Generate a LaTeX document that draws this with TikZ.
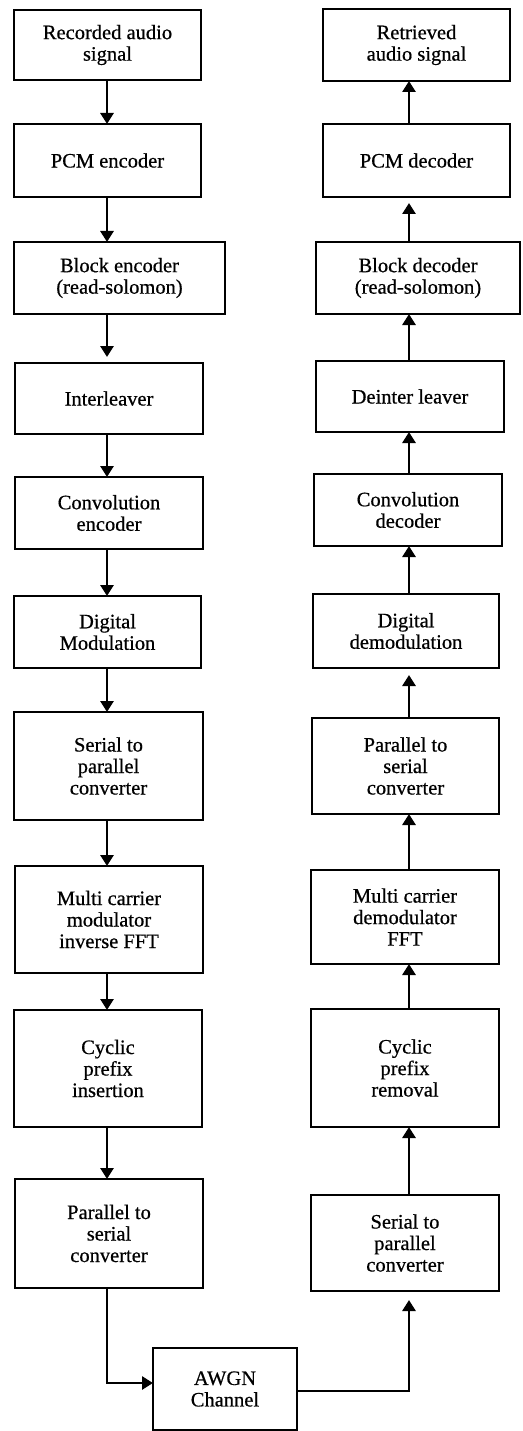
\documentclass[tikz,border=0pt]{standalone}
\usepackage{fontspec}
\setmainfont{Liberation Serif}[FakeBold=0.6]
\usetikzlibrary{arrows.meta}
\begin{document}
\begin{tikzpicture}[x=1pt,y=-1pt,
  box/.style={draw, line width=2.8pt, align=center, inner sep=0pt, outer sep=0pt,
    font=\fontsize{20.5}{21.5}\selectfont},
  arr/.style={line width=2.8pt, -{Triangle[length=11pt,width=13pt]}}]
\useasboundingbox (0,0) rectangle (522,1431);
\coordinate (xL) at (107,0);
\coordinate (xR) at (409,0);
% left column
\node[box, minimum width=187pt, minimum height=70pt]  (rec)   at (107.5,45)   {Recorded audio\\signal};
\node[box, minimum width=187pt, minimum height=73pt]  (pcmE)  at (107.5,160.5) {PCM encoder};
\node[box, minimum width=211pt, minimum height=72pt]  (blkE)  at (119.5,278)  {Block encoder\\(read-solomon)};
\node[box, minimum width=188pt, minimum height=71pt]  (intl)  at (109,398.5)  {Interleaver};
\node[box, minimum width=188pt, minimum height=72pt]  (convE) at (109,513)    {Convolution\\encoder};
\node[box, minimum width=187pt, minimum height=72pt]  (dmod)  at (107.5,632)  {Digital\\Modulation};
\node[box, minimum width=189pt, minimum height=108pt] (s2pL)  at (108.5,766)  {Serial to\\parallel\\converter};
\node[box, minimum width=188pt, minimum height=107pt] (mcm)   at (109,919.5)  {Multi carrier\\modulator\\inverse FFT};
\node[box, minimum width=188pt, minimum height=117pt] (cpi)   at (108,1068.5) {Cyclic\\prefix\\insertion};
\node[box, minimum width=188pt, minimum height=109pt] (p2sL)  at (109,1233.5) {Parallel to\\serial\\converter};
\node[box, minimum width=144pt, minimum height=82pt]  (awgn)  at (225,1389)   {AWGN\\Channel};
% right column
\node[box, minimum width=187pt, minimum height=72pt]  (ret)   at (416.5,45)   {Retrieved\\audio signal};
\node[box, minimum width=187pt, minimum height=73pt]  (pcmD)  at (416.5,160.5) {PCM decoder};
\node[box, minimum width=204pt, minimum height=72pt]  (blkD)  at (418,278)    {Block decoder\\(read-solomon)};
\node[box, minimum width=188pt, minimum height=71pt]  (deint) at (410,396.5)  {Deinter leaver};
\node[box, minimum width=188pt, minimum height=72pt]  (convD) at (408,510)    {Convolution\\decoder};
\node[box, minimum width=186pt, minimum height=74pt]  (ddmod) at (406,631)    {Digital\\demodulation};
\node[box, minimum width=187pt, minimum height=96pt]  (p2sR)  at (405.5,766)  {Parallel to\\serial\\converter};
\node[box, minimum width=188pt, minimum height=94pt]  (mcd)   at (405,917)    {Multi carrier\\demodulator\\FFT};
\node[box, minimum width=188pt, minimum height=118pt] (cpr)   at (405,1068)   {Cyclic\\prefix\\removal};
\node[box, minimum width=188pt, minimum height=96pt]  (s2pR)  at (405,1243)   {Serial to\\parallel\\converter};
% left arrows
\draw[arr] (rec.south -| xL) -- (pcmE.north -| xL);
\draw[arr] (pcmE.south -| xL) -- (blkE.north -| xL);
\draw[arr, shorten >=6pt] (blkE.south -| xL) -- (intl.north -| xL);
\draw[arr] (intl.south -| xL) -- (convE.north -| xL);
\draw[arr] (convE.south -| xL) -- (dmod.north -| xL);
\draw[arr] (dmod.south -| xL) -- (s2pL.north -| xL);
\draw[arr] (s2pL.south -| xL) -- (mcm.north -| xL);
\draw[arr] (mcm.south -| xL) -- (cpi.north -| xL);
\draw[arr] (cpi.south -| xL) -- (p2sL.north -| xL);
\draw[arr] (p2sL.south -| xL) |- ([yshift=6pt]awgn.west);
% right arrows
\draw[arr, shorten >=9pt] ([yshift=-2pt]awgn.east) -| (s2pR.south -| xR);
\draw[arr] (s2pR.north -| xR) -- (cpr.south -| xR);
\draw[arr] (cpr.north -| xR) -- (mcd.south -| xR);
\draw[arr] (mcd.north -| xR) -- (p2sR.south -| xR);
\draw[arr, shorten >=7pt] (p2sR.north -| xR) -- (ddmod.south -| xR);
\draw[arr] (ddmod.north -| xR) -- (convD.south -| xR);
\draw[arr] (convD.north -| xR) -- (deint.south -| xR);
\draw[arr] (deint.north -| xR) -- (blkD.south -| xR);
\draw[arr, shorten >=6pt] (blkD.north -| xR) -- (pcmD.south -| xR);
\draw[arr] (pcmD.north -| xR) -- (ret.south -| xR);
\end{tikzpicture}
\end{document}
